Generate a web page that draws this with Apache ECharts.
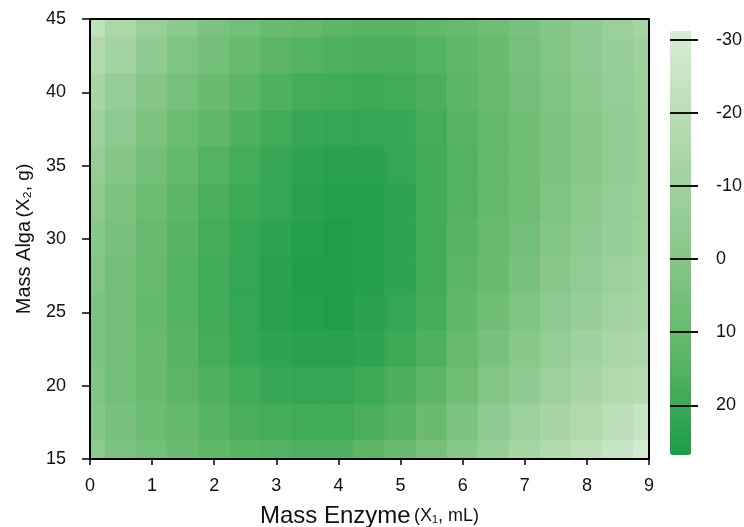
<!DOCTYPE html>
<html>
<head>
<meta charset="utf-8">
<title>Response surface: enzyme and alga mass</title>
<script src="https://cdn.jsdelivr.net/npm/echarts@6/dist/echarts.min.js"></script>
<style>
  html, body { margin: 0; padding: 0; background: #fff; }
  #chart { width: 744px; height: 527px; }
</style>
</head>
<body>
<div id="chart"></div>
<script>
// Grid positions of the response surface
const enzymeMass = [0, 0.5, 1, 1.5, 2, 2.5, 3, 3.5, 4, 4.5, 5, 5.5, 6, 6.5, 7, 7.5, 8, 8.5, 9];
const algaMass = [45, 42.5, 40, 37.5, 35, 32.5, 30, 27.5, 25, 22.5, 20, 17.5, 15];

// Response values, one row per alga mass (same order as algaMass)
const rowAlga45   = [-22, -15, -8, -2, 3, 6, 9, 11, 13, 14, 14, 12, 10, 7, 4, 0, -4, -8, -12];
const rowAlga42_5 = [-17, -11, -4, 2, 6, 10, 13, 15, 16, 17, 17, 15, 12, 9, 5, 1, -3, -7, -10];
const rowAlga40   = [-13, -6, 0, 5, 9, 13, 16, 18, 19, 20, 19, 17, 13, 10, 6, 2, -2, -6, -9];
const rowAlga37_5 = [-9, -3, 3, 8, 12, 16, 19, 21, 22, 22, 21, 18, 14, 11, 7, 3, -1, -5, -8];
const rowAlga35   = [-6, 0, 6, 11, 15, 18, 21, 23, 24, 24, 22, 19, 15, 11, 7, 3, -1, -5, -8];
const rowAlga32_5 = [-3, 3, 8, 13, 17, 20, 22, 24, 25, 25, 23, 19, 15, 11, 7, 2, -2, -6, -8];
const rowAlga30   = [-1, 4, 10, 14, 18, 21, 23, 25, 26, 25, 23, 19, 14, 10, 6, 1, -3, -7, -9];
const rowAlga27_5 = [1, 6, 10, 15, 19, 22, 24, 26, 26, 25, 23, 19, 13, 9, 4, -1, -5, -9, -11];
const rowAlga25   = [3, 6, 11, 15, 19, 22, 24, 25, 26, 24, 22, 18, 12, 7, 2, -3, -7, -11, -13];
const rowAlga22_5 = [3, 6, 10, 14, 18, 21, 23, 24, 24, 23, 20, 16, 10, 4, -1, -6, -10, -14, -16];
const rowAlga20   = [2, 6, 9, 13, 16, 19, 21, 22, 22, 20, 17, 13, 7, 1, -4, -9, -13, -17, -19];
const rowAlga17_5 = [0, 4, 8, 11, 14, 17, 18, 19, 19, 17, 14, 9, 3, -3, -9, -13, -17, -21, -24];
const rowAlga15   = [-3, 3, 6, 9, 12, 14, 15, 16, 16, 13, 10, 5, -1, -7, -13, -17, -21, -25, -29];

const responseRows = [rowAlga45, rowAlga42_5, rowAlga40, rowAlga37_5, rowAlga35, rowAlga32_5,
  rowAlga30, rowAlga27_5, rowAlga25, rowAlga22_5, rowAlga20, rowAlga17_5, rowAlga15];

// Axis ticks and colour scale
const xTicks = [0, 1, 2, 3, 4, 5, 6, 7, 8, 9];
const yTicks = [15, 20, 25, 30, 35, 40, 45];
const scaleTicks = [-30, -20, -10, 0, 10, 20];
const scaleMin = -31.2;
const scaleMax = 26.8;

const cells = [];
algaMass.forEach((y, r) => {
  enzymeMass.forEach((x, c) => {
    cells.push([x, y, responseRows[r][c]]);
  });
});

const stepX = Math.abs(enzymeMass[1] - enzymeMass[0]);
const stepY = Math.abs(algaMass[1] - algaMass[0]);

function renderCell(params, api) {
  const x = api.value(0);
  const y = api.value(1);
  const p0 = api.coord([x - stepX / 2, y + stepY / 2]);
  const p1 = api.coord([x + stepX / 2, y - stepY / 2]);
  const cs = params.coordSys;
  const shape = echarts.graphic.clipRectByRect(
    { x: p0[0], y: p0[1], width: p1[0] - p0[0], height: p1[1] - p0[1] },
    { x: cs.x, y: cs.y, width: cs.width, height: cs.height }
  );
  if (!shape) return;
  const color = api.visual('color');
  return {
    type: 'rect',
    shape: shape,
    style: { fill: color, stroke: color, lineWidth: 1 }
  };
}

const FONT = '"Liberation Sans", Arial, Helvetica, sans-serif';
const frameLine = { show: true, onZero: false, lineStyle: { color: '#000', width: 2 } };

const chart = echarts.init(document.getElementById('chart'), null, { renderer: 'canvas' });

chart.setOption({
  backgroundColor: '#ffffff',
  animation: false,
  textStyle: { fontFamily: FONT },
  grid: [
    { left: 90, right: 95, top: 19, bottom: 68, outerBoundsMode: 'none', containLabel: false },
    { left: 670, top: 31, width: 28, height: 424, outerBoundsMode: 'none', containLabel: false }
  ],
  xAxis: [
    {
      type: 'value', gridIndex: 0, position: 'bottom', min: 0, max: 9, interval: 1, z: 10,
      axisLine: frameLine,
      axisTick: { show: true, length: 6, lineStyle: { color: '#000', width: 1.5 } },
      axisLabel: { color: '#111', fontSize: 18, margin: 18, fontFamily: FONT },
      splitLine: { show: false },
      name: '{a|Mass Enzyme} {b|(X\u2081, mL)}',
      nameLocation: 'middle',
      nameGap: 45,
      nameTextStyle: {
        rich: {
          a: { fontSize: 24, color: '#111', fontFamily: FONT },
          b: { fontSize: 18, color: '#111', fontFamily: FONT }
        }
      }
    },
    {
      type: 'value', gridIndex: 0, position: 'top', min: 0, max: 9, z: 10,
      axisLine: frameLine, axisTick: { show: false }, axisLabel: { show: false }, splitLine: { show: false }
    },
    {
      type: 'value', gridIndex: 1, min: 0, max: 1, show: false
    }
  ],
  yAxis: [
    {
      type: 'value', gridIndex: 0, position: 'left', min: 15, max: 45, interval: 5, z: 10,
      axisLine: frameLine,
      axisTick: { show: true, length: 8, lineStyle: { color: '#000', width: 1.5 } },
      axisLabel: { color: '#111', fontSize: 18, margin: 24, fontFamily: FONT },
      splitLine: { show: false },
      name: '{a|Mass Alga} {b|(X\u2082, g)}',
      nameLocation: 'middle',
      nameRotate: 90,
      nameGap: 56,
      nameTextStyle: {
        rich: {
          a: { fontSize: 20, color: '#111', fontFamily: FONT },
          b: { fontSize: 19, color: '#111', fontFamily: FONT }
        }
      }
    },
    {
      type: 'value', gridIndex: 0, position: 'right', min: 15, max: 45, z: 10,
      axisLine: frameLine, axisTick: { show: false }, axisLabel: { show: false }, splitLine: { show: false }
    },
    {
      // colour scale axis
      type: 'value', gridIndex: 1, position: 'right', inverse: true,
      min: scaleMin, max: scaleMax, z: 10,
      axisLine: { show: false, onZero: false },
      axisTick: {
        show: true, inside: true, length: 28, customValues: scaleTicks,
        lineStyle: { color: '#111', width: 2 }
      },
      axisLabel: {
        show: true, customValues: scaleTicks, margin: 18,
        color: '#111', fontSize: 18, fontFamily: FONT
      },
      splitLine: { show: false }
    }
  ],
  visualMap: {
    type: 'continuous',
    seriesIndex: 0,
    dimension: 2,
    min: scaleMin,
    max: scaleMax,
    inverse: true,
    orient: 'vertical',
    left: 670,
    top: 31,
    itemWidth: 21,
    itemHeight: 424,
    padding: 0,
    calculable: false,
    hoverLink: false,
    realtime: false,
    inRange: { color: ['#d9eed6', '#b0d9ac', '#8cc98d', '#60b769', '#1c9c48'] }
  },
  series: [
    {
      type: 'custom',
      xAxisIndex: 0,
      yAxisIndex: 0,
      renderItem: renderCell,
      data: cells,
      encode: { x: 0, y: 1 },
      silent: true
    }
  ]
});
</script>
</body>
</html>
